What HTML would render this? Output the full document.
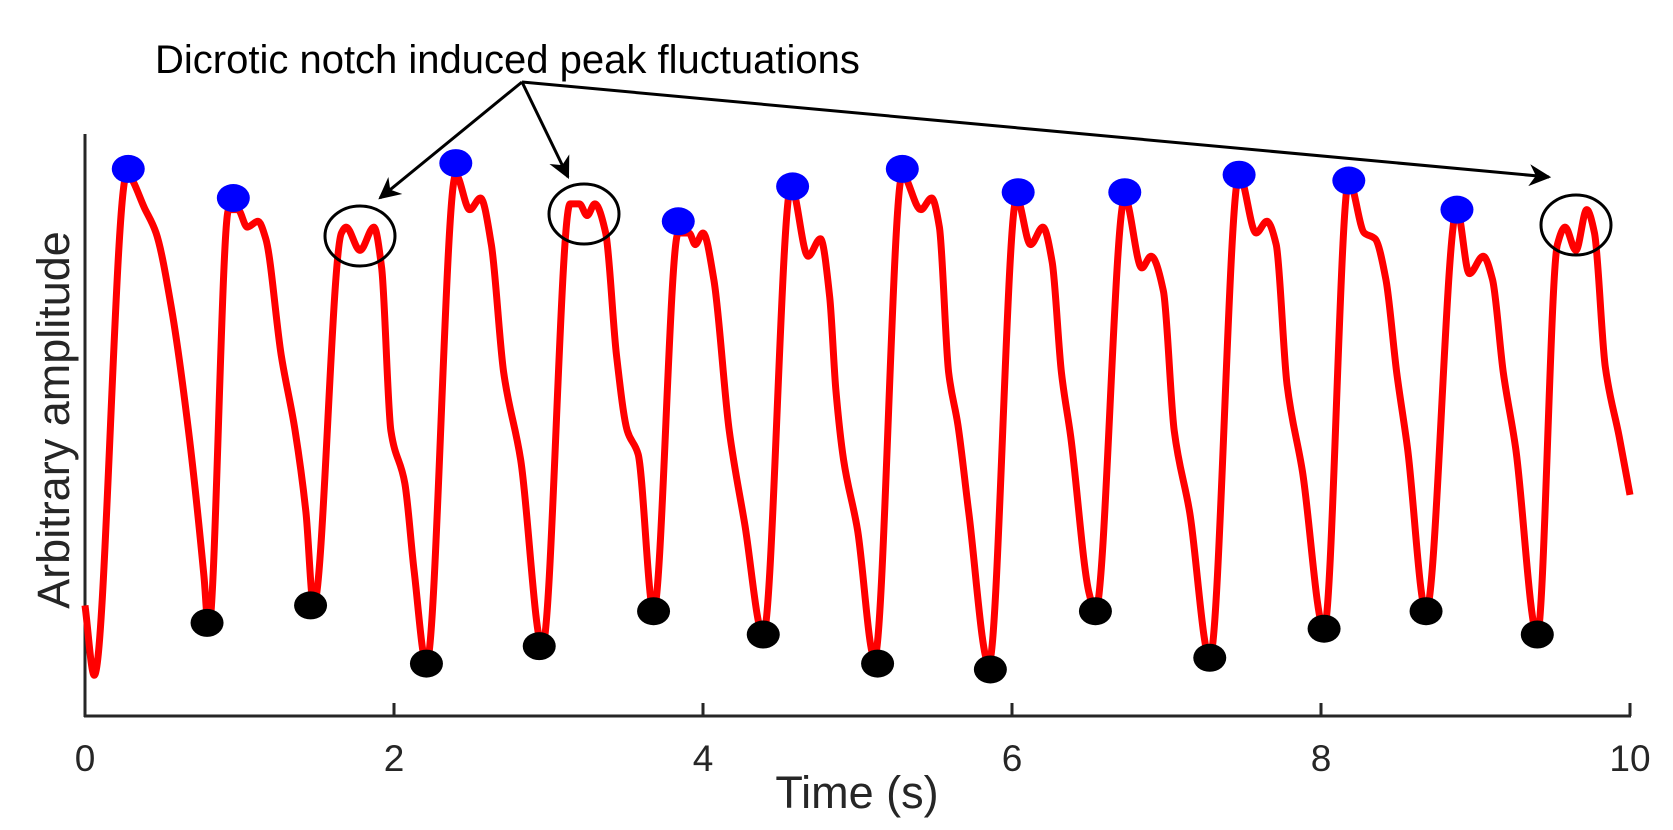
<!DOCTYPE html>
<html><head><meta charset="utf-8"><style>
body{margin:0;background:#fff}
svg{display:block;font-family:"Liberation Sans",Arial,sans-serif}
</style></head><body>
<svg id="chart" width="1673" height="830" viewBox="0 0 1673 830" xmlns="http://www.w3.org/2000/svg">
<defs>
<marker id="ah2" viewBox="0 0 10 10" refX="9" refY="5" markerWidth="30" markerHeight="22" markerUnits="userSpaceOnUse" orient="auto"><path d="M0,0 L10,5 L0,10 L3,5 Z" fill="#000"/></marker></defs>
<g id="axes"></g>
<g id="signal"></g>
<g id="marks"></g>
<text x="155" y="73" font-size="40" fill="#000">Dicrotic notch induced peak fluctuations</text>
<g stroke="#000" stroke-width="3" fill="none">
<line x1="522" y1="82" x2="380" y2="198" marker-end="url(#ah2)"/>
<line x1="522" y1="82" x2="568" y2="177" marker-end="url(#ah2)"/>
<line x1="522" y1="82" x2="1549" y2="177" marker-end="url(#ah2)"/>
<ellipse cx="360" cy="236" rx="35" ry="30"/>
<ellipse cx="584" cy="214" rx="35" ry="30"/>
<ellipse cx="1576" cy="225" rx="35" ry="30"/>
</g>
<text x="857" y="808" font-size="45" text-anchor="middle" fill="#262626">Time (s)</text>
<text transform="translate(69,420) rotate(-90)" font-size="45" text-anchor="middle" fill="#262626">Arbitrary amplitude</text>
</svg>
<script>
const signalT=[0,.06,.27,.39,.46,.56,.67,.77,.80,.93,.99,1.05,1.12,1.17,1.27,1.36,1.43,1.48,1.66,1.69,1.78,1.87,1.92,1.98,2.07,2.13,2.21,2.40,2.49,2.56,2.63,2.71,2.82,2.96,3.14,3.20,3.25,3.30,3.37,3.44,3.51,3.58,3.68,3.84,3.91,3.95,4.00,4.07,4.17,4.27,4.39,4.57,4.68,4.76,4.82,4.86,4.91,5.00,5.11,5.29,5.41,5.48,5.53,5.59,5.65,5.72,5.85,6.03,6.12,6.20,6.26,6.32,6.38,6.50,6.54,6.73,6.84,6.90,6.98,7.05,7.15,7.28,7.47,7.58,7.65,7.71,7.78,7.88,8.02,8.18,8.28,8.35,8.42,8.49,8.56,8.68,8.88,8.96,9.05,9.11,9.18,9.26,9.40,9.53,9.58,9.65,9.72,9.77,9.84,9.93,10.0];
const signalA=[19,7,93,87,83,70,49,24,15,87,87,84,85,82,62,49,35,19,83,84,80,84,77,49,40,25,9,93,87,89,81,59,44,12,88,88,86,88,83,62,49,45,18,83,83,81,83,75,49,33,14,91,79,82,72,56,44,32,10,93,87,89,84,59,50,35,9,89,81,84,78,59,48,21,18,89,77,79,73,49,35,10,93,83,85,81,57,42,15,92,83,82,75,59,46,18,87,76,79,75,59,46,14,81,84,80,87,83,60,48,38];
const peakT=[.28,.96,2.40,3.84,4.58,5.29,6.04,6.73,7.47,8.18,8.88];
const peakA=[94,89,95,85,91,94,90,90,93,92,87];
const troughT=[.79,1.46,2.21,2.94,3.68,4.39,5.13,5.86,6.54,7.28,8.02,8.68,9.40];
const troughA=[16,19,9,12,18,14,9,8,18,10,15,18,14];
const xTicks=[0,2,4,6,8,10];

const NS="http://www.w3.org/2000/svg";
const X=t=>85+t*154.5;
const Y=a=>716-a*5.82;
function mk(tag,attrs,parent){const e=document.createElementNS(NS,tag);for(const k in attrs)e.setAttribute(k,attrs[k]);parent.appendChild(e);return e;}
const axes=document.getElementById('axes');
let yl=mk('line',{x1:85,y1:134,x2:85,y2:717,stroke:'#262626','stroke-width':3},axes);


let xl=mk('line',{x1:84,y1:716,x2:1631,y2:716,stroke:'#262626','stroke-width':3},axes);


xTicks.forEach(v=>{
  let tk=mk('line',{x1:X(v),y1:716,x2:X(v),y2:703,stroke:'#262626','stroke-width':3},axes);
  
  
  let tl=mk('text',{x:X(v),y:771,'font-size':37,'text-anchor':'middle',fill:'#262626'},axes);
  tl.textContent=v;
  
  
});
// monotone cubic (Fritsch-Carlson) smoothing
const P=signalT.map((t,i)=>[X(t),Y(signalA[i])]);
const n=P.length, dx=[], sl=[], m=[];
for(let i=0;i<n-1;i++){dx[i]=P[i+1][0]-P[i][0];sl[i]=(P[i+1][1]-P[i][1])/dx[i];}
m[0]=sl[0];m[n-1]=sl[n-2];
for(let i=1;i<n-1;i++){
  if(sl[i-1]*sl[i]<=0)m[i]=0;
  else{const w1=2*dx[i]+dx[i-1],w2=dx[i]+2*dx[i-1];m[i]=(w1+w2)/(w1/sl[i-1]+w2/sl[i]);}
}
let d='M'+P[0][0]+','+P[0][1];
for(let i=0;i<n-1;i++){
  const h=dx[i]/3;
  d+=` C${P[i][0]+h},${P[i][1]+m[i]*h} ${P[i+1][0]-h},${P[i+1][1]-m[i+1]*h} ${P[i+1][0]},${P[i+1][1]}`;
}
let sig=mk('path',{d:d,fill:'none',stroke:'#ff0000','stroke-width':7,'stroke-linejoin':'round','stroke-linecap':'butt'},document.getElementById('signal'));


const marks=document.getElementById('marks');
peakT.forEach((t,i)=>{
  let e=mk('ellipse',{cx:X(t),cy:Y(peakA[i]),rx:16.5,ry:14,fill:'#0000ff'},marks);
  
  
});
troughT.forEach((t,i)=>{
  let e=mk('ellipse',{cx:X(t),cy:Y(troughA[i]),rx:16.5,ry:14,fill:'#000'},marks);
  
  
});
</script>
</body></html>
